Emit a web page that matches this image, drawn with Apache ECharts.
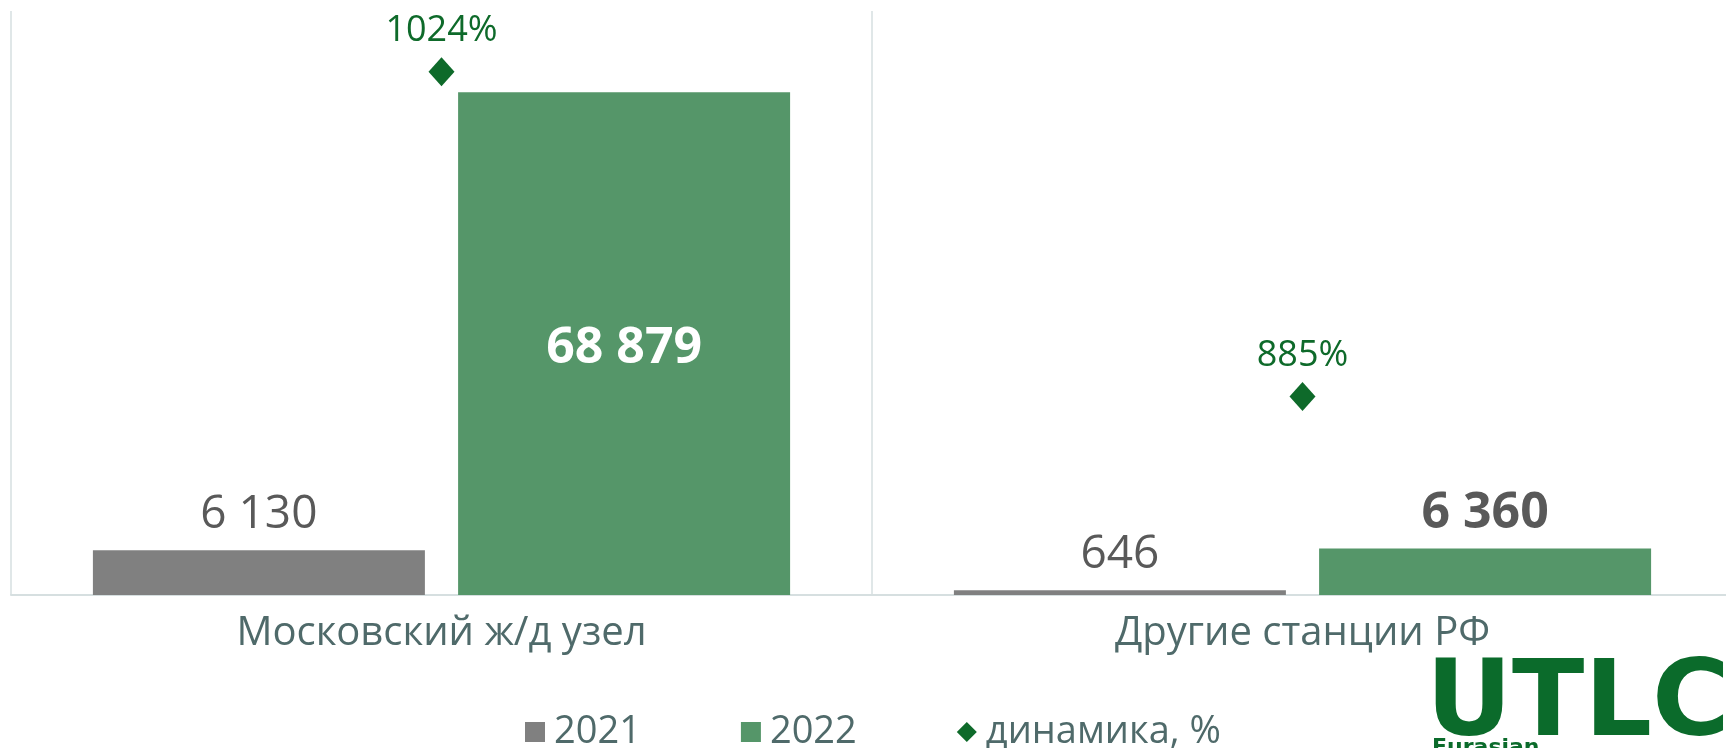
<!DOCTYPE html>
<html lang="ru">
<head>
    <meta charset="UTF-8">
    <title>Динамика</title>
    <style>
        html, body { margin: 0; padding: 0; background: #fff; }
        #chartContainer { width: 1726px; height: 748px; }
    </style>
    <script src="https://cdn.jsdelivr.net/npm/echarts@6/dist/echarts.min.js"></script>
</head>
<body>
    <div id="chartContainer"></div>
    <script>
        // data
        const categories = ['Московский ж/д узел', 'Другие станции РФ'];
        const values2021 = [6130, 646];
        const values2022 = [68879, 6360];
        const dynamics = [1024, 885];
        const seriesNames = ['2021', '2022', 'динамика, %'];

        const FONT = '"Open Sans", sans-serif';
        const GRAY = '#808080';
        const GREEN = '#559669';
        const DARKGREEN = '#0e6a2a';
        const LABEL_GRAY = '#595959';
        const TEXT_TEAL = '#4f6a6a';

        const fmt = v => String(v).replace(/\B(?=(\d{3})+(?!\d))/g, ' ');

        var chartDom = document.getElementById('chartContainer');
        var myChart = echarts.init(chartDom);

        // first 2022 bar has its label inside (white bold), second above it
        const data2022 = values2022.map((v, i) => i === 0
            ? { value: v, label: { position: 'inside', color: '#fff', fontWeight: 'bold', fontSize: 50, offset: [0, 5] } }
            : { value: v, label: { position: 'top', color: LABEL_GRAY, fontWeight: 'bold', fontSize: 50, distance: 10 } });

        const option = {
            animation: false,
            textStyle: { fontFamily: FONT },
            // the plot runs a few px past the right edge of the picture
            grid: { left: 11, right: -7, top: 11, bottom: 153, outerBoundsMode: 'none', containLabel: false },
            legend: {
                data: [
                    { name: seriesNames[0], icon: 'rect' },
                    { name: seriesNames[1], icon: 'rect' },
                    { name: seriesNames[2], icon: 'diamond' }
                ],
                left: 520,
                top: 708,
                itemWidth: 20,
                itemHeight: 20,
                itemGap: 100,
                textStyle: { fontSize: 38, color: TEXT_TEAL, fontFamily: FONT, padding: [0, 0, 0, 4] }
            },
            xAxis: {
                type: 'category',
                data: categories,
                axisLine: { lineStyle: { color: '#d6dfe0', width: 2 } },
                axisTick: { show: false },
                splitLine: { show: true, lineStyle: { color: '#d6dfe0', width: 1.5 } },
                axisLabel: { fontSize: 40, lineHeight: 40, color: TEXT_TEAL, margin: 19, fontFamily: FONT }
            },
            yAxis: [
                { type: 'value', min: 0, max: 80000, show: false, splitLine: { show: false } },
                { type: 'value', min: 800, max: 1050, show: false, splitLine: { show: false } }
            ],
            series: [
                {
                    name: seriesNames[0],
                    type: 'bar',
                    data: values2021,
                    barWidth: 332,
                    barGap: '10%',
                    itemStyle: { color: GRAY },
                    label: {
                        show: true, position: 'top', distance: 12,
                        fontSize: 46, color: LABEL_GRAY, fontFamily: FONT,
                        formatter: p => fmt(p.value)
                    }
                },
                {
                    name: seriesNames[1],
                    type: 'bar',
                    data: data2022,
                    barWidth: 332,
                    barGap: '10%',
                    itemStyle: { color: GREEN },
                    label: { show: true, fontFamily: FONT, formatter: p => fmt(p.value) }
                },
                {
                    name: seriesNames[2],
                    type: 'scatter',
                    yAxisIndex: 1,
                    data: dynamics,
                    symbol: 'diamond',
                    symbolSize: [26, 29],
                    itemStyle: { color: DARKGREEN, opacity: 1 },
                    label: {
                        show: true, position: 'top', distance: 8,
                        fontSize: 36, color: DARKGREEN, fontFamily: FONT,
                        formatter: p => p.value + '%'
                    }
                }
            ],
            graphic: [
                {
                    type: 'text', left: 1426, top: 654,
                    style: { text: 'UTLC', fill: '#0b6b2b', font: 'bold 106px "DejaVu Sans"' }
                },
                {
                    type: 'text', left: 1432, top: 737,
                    style: { text: 'Eurasian', fill: '#0b6b2b', font: 'bold 22px "DejaVu Sans"' }
                }
            ]
        };

        myChart.setOption(option);
    </script>
</body>
</html>
